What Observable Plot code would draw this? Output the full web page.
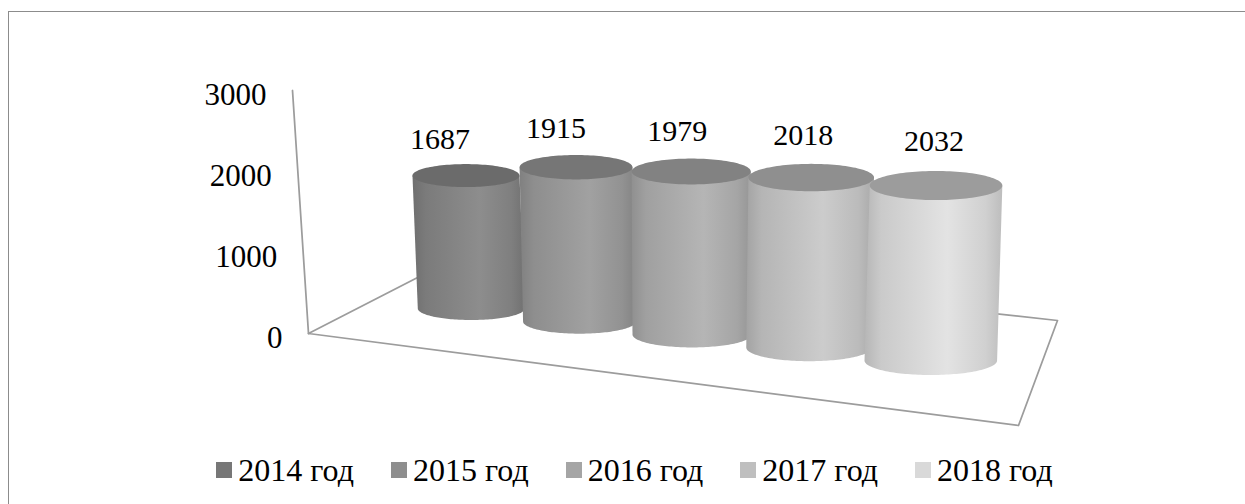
<!DOCTYPE html>
<html><head><meta charset="utf-8">
<script src="https://cdn.jsdelivr.net/npm/d3@7"></script>
<script src="https://cdn.jsdelivr.net/npm/@observablehq/plot@0.6"></script>
<style>
html,body{margin:0;padding:0;background:#fff;overflow:hidden;width:1245px;height:504px;}
#frame{position:absolute;left:8px;top:11px;width:1400px;height:700px;border-left:1.5px solid #8c8c8c;border-top:1.5px solid #8c8c8c;}
#chart{position:absolute;left:0;top:0;}
#legend{position:absolute;left:12px;top:454px;width:1245px;height:32px;display:flex;justify-content:center;gap:37px;font-family:"Liberation Serif",serif;font-size:32px;line-height:32px;color:#000;}
.item{display:flex;align-items:center;white-space:nowrap;}
.sw{width:16px;height:16px;margin-right:6px;flex:none;}
</style></head>
<body><div id="frame"></div><div id="chart"></div><div id="legend"></div>
<script>
// ---- data ----
const years = ["2014 год", "2015 год", "2016 год", "2017 год", "2018 год"];
const values = [1687, 1915, 1979, 2018, 2032];
const yTicks = [0, 1000, 2000, 3000];
const palette = ["#777777", "#8e8e8e", "#a5a5a5", "#bfbfbf", "#d9d9d9"];

// ---- 3-D perspective model of the plot area (pixels) ----
const W = 1245, H = 440;
const FONT = "Liberation Serif, Times New Roman, serif";
const floor = [[308, 333], [1018, 425], [1057, 320], [460, 255]]; // front-left, front-right, back-right, back-left
const axisTopShift = -16, axisUnit = 0.081;                      // value axis at the front-left corner
const axisPt = v => ({x: floor[0][0] + axisTopShift * v / 3000, y: floor[0][1] - axisUnit * v});
const persp = 1.04;
function cylinder(i, v) {
  const g = Math.pow(persp, i);
  const cx = 470.8 + 106.1 * (g - 1) / Math.log(persp);
  const cy = 308 + 13 * i;
  const rx = 53.5 * Math.pow(1.055, i);
  const ry = 11.5 * Math.pow(1.06, i);
  const k = 0.0788 * Math.pow(1.0224, i);
  const lean = -0.04 + 0.0175 * i;
  const h = v * k;
  return {cx, cy, rx, ry, tx: cx + lean * h, ty: cy - h};
}
function arc(cx, cy, rx, ry, a0, a1, n) {
  const pts = [];
  for (let j = 0; j <= n; j++) {
    const a = a0 + (a1 - a0) * j / n;
    pts.push({x: cx + rx * Math.cos(a), y: cy + ry * Math.sin(a)});
  }
  return pts;
}
const gray = (b, a, c) => { const v = Math.max(0, Math.min(255, Math.round(a * b + c))); return d3.rgb(v, v, v).formatHex(); };

const cylMarks = values.flatMap((v, i) => {
  const c = cylinder(i, v);
  const side = [{x: c.tx - c.rx, y: c.ty}, ...arc(c.cx, c.cy, c.rx, c.ry, Math.PI, 0, 80), {x: c.tx + c.rx, y: c.ty}];
  const top = arc(c.tx, c.ty, c.rx, c.ry, 0, 2 * Math.PI, 120);
  const b = d3.rgb(palette[i]).r;
  return [
    Plot.line(side, {x: "x", y: "y", fill: `url(#cylSide${i})`, stroke: "none", curve: "linear"}),
    Plot.line(top, {x: "x", y: "y", fill: gray(b, 0.5, 47), stroke: "none", curve: "linear"})
  ];
});

const floorPts = [...floor, floor[0]].map(([x, y]) => ({x, y}));

const svg = Plot.plot({
  width: W, height: H, margin: 0,
  x: {domain: [0, W], range: [0, W], axis: null},
  y: {domain: [0, H], range: [0, H], axis: null},
  style: {fontFamily: FONT, fontSize: "30px", background: "transparent", overflow: "visible"},
  marks: [
    Plot.line(floorPts, {x: "x", y: "y", stroke: "#9c9c9c", strokeWidth: 1.75, fill: "none"}),
    Plot.line([axisPt(0), axisPt(3000)], {x: "x", y: "y", stroke: "#9c9c9c", strokeWidth: 1.75}),
    Plot.text(yTicks, {x: v => axisPt(v).x - 26, y: v => axisPt(v).y + 4.5, text: v => String(v),
      textAnchor: "end", fontSize: 31, fontFamily: FONT, fill: "#000"}),
    ...cylMarks,
    Plot.text(values, {
      x: (v, i) => cylinder(i, v).tx - 26 + 6 * i,
      y: (v, i) => { const c = cylinder(i, v); return c.ty - c.ry - 25 - 1.2 * i; },
      text: v => String(v), fontSize: 30, fontFamily: FONT, fill: "#000"
    })
  ]
});

// side-surface shading gradients
const defs = d3.create("svg:defs");
palette.forEach((col, i) => {
  const b = d3.rgb(col).r;
  const lg = defs.append("linearGradient").attr("id", `cylSide${i}`)
    .attr("x1", 0).attr("x2", 1).attr("y1", 0).attr("y2", 0);
  [[0, 0.73, 24], [0.12, 0.80, 28], [0.6, 0.88, 36], [0.88, 0.83, 28], [1, 0.78, 20]].forEach(([o, a, c]) =>
    lg.append("stop").attr("offset", o).attr("stop-color", gray(b, a, c)));
});
svg.insertBefore(defs.node(), svg.firstChild);
document.getElementById("chart").appendChild(svg);

// legend
const legend = d3.select("#legend");
years.forEach((y, i) => {
  const it = legend.append("div").attr("class", "item");
  it.append("div").attr("class", "sw").style("background", palette[i]);
  it.append("span").text(y);
});
</script>
</body></html>
